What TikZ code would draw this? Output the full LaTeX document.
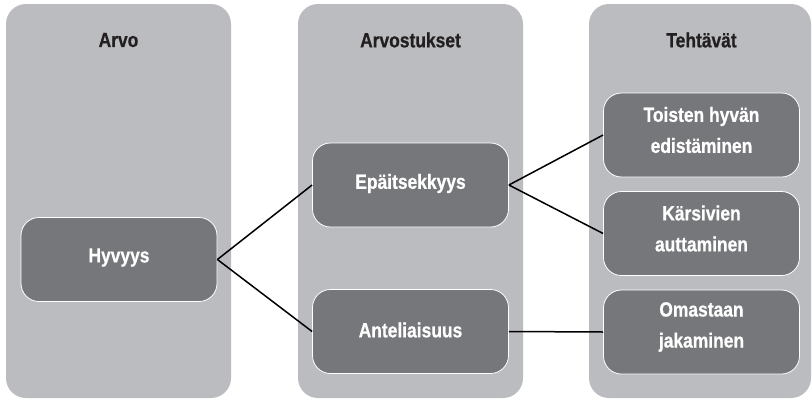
\documentclass[tikz,border=0pt]{standalone}
\usepackage{fontspec}
\setmainfont{Liberation Sans}[FakeStretch=0.85, BoldFeatures={FakeBold=0.6}]
\definecolor{colfill}{HTML}{BBBCBF}
\definecolor{boxfill}{HTML}{76777B}
\definecolor{titlecol}{HTML}{231F20}
\tikzset{
  column/.style={fill=colfill, draw=none, rounded corners=20pt},
  coltitle/.style={text=titlecol, font=\fontsize{20.5}{31}\selectfont\bfseries, anchor=center},
  itembox/.style={fill=boxfill, draw=white, line width=0.8pt, rounded corners=18pt,
    minimum width=196pt, minimum height=84pt},
  itemtext/.style={text=white, align=center, inner sep=0pt,
    font=\fontsize{20.5}{31}\selectfont\bfseries},
  link/.style={draw=black, line width=1.5pt}
}
\begin{document}
\begin{tikzpicture}[x=1pt,y=-1pt]
\useasboundingbox (0,0) rectangle (812,400);
\fill[white] (0,0) rectangle (812,400);
\path[column] (6,4) rectangle (231,398);
\path[column] (298,4) rectangle (523,398);
\path[column] (589,4) rectangle (811,398);
\node[coltitle] (t1) at (118.5,40) {Arvo};
\node[coltitle] (t2) at (410.5,40) {Arvostukset};
\node[coltitle] (t3) at (701.5,40) {Tehtävät};
\node[itembox] (hyv) at (119,259.5) {};
\node[itembox] (epa) at (410.5,185) {};
\node[itembox] (ant) at (410.5,331.5) {};
\node[itembox] (toi) at (701.5,135) {};
\node[itembox] (kar) at (701.5,233.5) {};
\node[itembox] (oma) at (701.5,332) {};
\node[itemtext] (hyvT) at ([yshift=2pt]hyv.center) {Hyvyys};
\node[itemtext] (epaT) at ([yshift=1.5pt]epa.center) {Epäitsekkyys};
\node[itemtext] (antT) at ([yshift=1.5pt]ant.center) {Anteliaisuus};
\node[itemtext] (toiT) at ([yshift=5pt]toi.center) {Toisten hyvän\\edistäminen};
\node[itemtext] (karT) at ([yshift=5pt]kar.center) {Kärsivien\\auttaminen};
\node[itemtext] (omaT) at ([yshift=5pt]oma.center) {Omastaan\\jakaminen};
\draw[link] (hyv.east) -- (epa.west);
\draw[link] (hyv.east) -- (ant.west);
\draw[link] (epa.east) -- (toi.west);
\draw[link] (epa.east) -- (kar.west);
\draw[link] (ant.east) -- (oma.west);
\end{tikzpicture}
\end{document}
